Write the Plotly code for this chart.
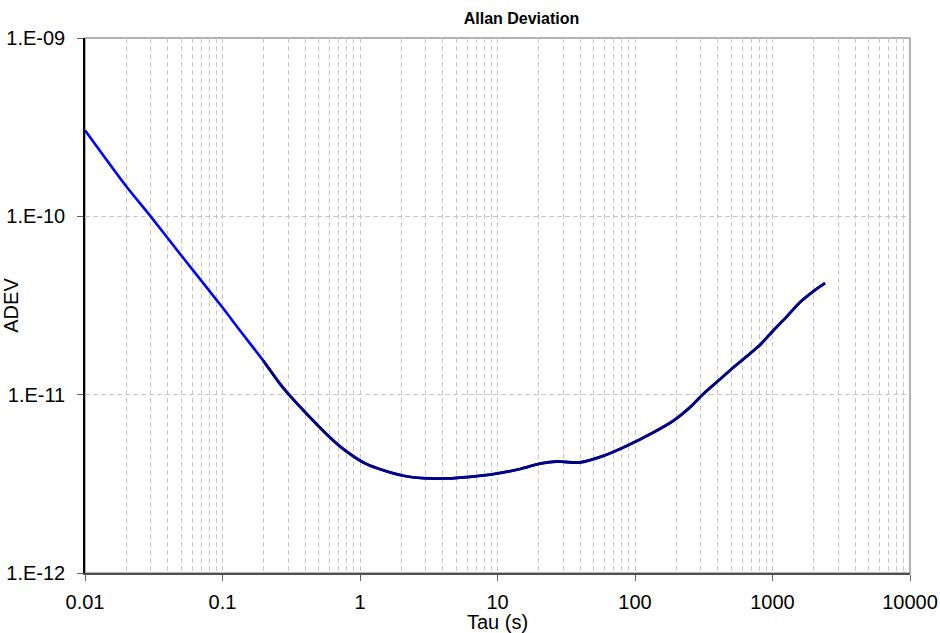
import plotly.graph_objects as go

tau = [0.01, 0.02, 0.03, 0.05, 0.1, 0.134, 0.198, 0.262, 0.301, 0.41, 0.605, 0.757,
       1.057, 1.32, 2.07, 2.89, 4.27, 6.3, 9.86, 14.6, 20.4, 26.9, 39.8, 58.9, 86.9,
       136, 190, 251, 314, 415, 519, 686, 811, 1014, 1268, 1585, 1983, 2410]
adev = [3.04e-10, 1.47e-10, 1.0e-10, 6.05e-11, 3.08e-11, 2.29e-11, 1.55e-11, 1.15e-11,
        1.01e-11, 7.8e-12, 5.75e-12, 4.95e-12, 4.17e-12, 3.88e-12, 3.51e-12, 3.40e-12,
        3.39e-12, 3.46e-12, 3.61e-12, 3.83e-12, 4.11e-12, 4.22e-12, 4.17e-12, 4.54e-12,
        5.16e-12, 6.14e-12, 7.14e-12, 8.49e-12, 1.01e-11, 1.22e-11, 1.42e-11, 1.70e-11,
        1.90e-11, 2.29e-11, 2.74e-11, 3.30e-11, 3.80e-11, 4.22e-11]

x_ticks = [0.01, 0.1, 1, 10, 100, 1000, 10000]
x_labels = ["0.01", "0.1", "1", "10", "100", "1000", "10000"]
y_ticks = [1e-12, 1e-11, 1e-10, 1e-9]
y_labels = ["1.E-12", "1.E-11", "1.E-10", "1.E-09"]

FONT = "Liberation Sans, Arial, sans-serif"
dense_start = 6

fig = go.Figure()
fig.add_trace(go.Scatter(x=tau, y=adev, mode="lines",
                         line=dict(color="#0000FF", width=2.6, shape="spline", smoothing=0.8),
                         showlegend=False, hoverinfo="skip"))
fig.add_trace(go.Scatter(x=tau[dense_start:], y=adev[dense_start:], mode="lines",
                         line=dict(color="#000080", width=2.8, shape="spline", smoothing=0.8),
                         showlegend=False))

grid = dict(gridcolor="#c8c8c8", griddash="5px,3px", gridwidth=1)

fig.update_layout(
    width=940, height=633,
    margin=dict(l=85, r=30, t=38, b=60),
    paper_bgcolor="white", plot_bgcolor="white",
    font=dict(family=FONT, color="black", size=20),
    title=dict(text="<b>Allan Deviation</b>", font=dict(family=FONT, size=16, color="black"),
               x=521.5 / 940, xref="container", xanchor="center",
               y=1 - 18 / 633, yref="container", yanchor="middle"),
    xaxis=dict(type="log", range=[-2, 4], tickvals=x_ticks, ticktext=x_labels,
               ticks="outside", ticklen=6, tickcolor="#606060", showline=True,
               linecolor="#505050", linewidth=1.5, zeroline=False,
               showgrid=True, **grid,
               minor=dict(dtick="D1", showgrid=True, ticks="", **grid),
               title=dict(text="Tau (s)", standoff=4, font=dict(size=20)),
               ticklabelstandoff=4, automargin=False),
    yaxis=dict(type="log", range=[-12, -9], tickvals=y_ticks, ticktext=y_labels,
               ticks="outside", ticklen=6, tickcolor="#606060", showline=True,
               linecolor="black", linewidth=1.5, zeroline=False,
               showgrid=True, **grid,
               title=dict(text="ADEV", standoff=12, font=dict(size=20)),
               ticklabelstandoff=8, automargin=False),
    shapes=[dict(type="rect", xref="paper", yref="paper", x0=0, x1=1, y0=0, y1=1,
                 line=dict(color="#9a9a9a", width=1.5), layer="below")],
)

fig.write_html("out.html")
